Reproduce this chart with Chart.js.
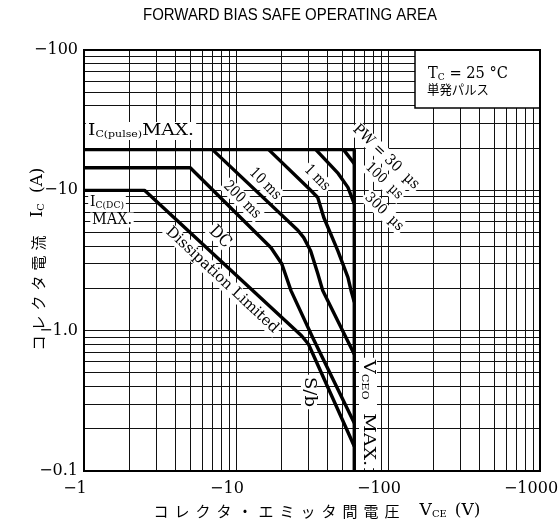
<!DOCTYPE html>
<html>
<head>
<meta charset="utf-8">
<script src="https://cdn.jsdelivr.net/npm/chart.js@4/dist/chart.umd.min.js"></script>
<style>
html, body { margin: 0; padding: 0; background: #fff; }
</style>
</head>
<body>
<canvas id="soa" width="560" height="532"></canvas>
<script>
// tick values (shown with a minus sign, the device is PNP)
const xDecades = [1, 10, 100, 1000];
const yDecades = [0.1, 1, 10, 100];

// curves, V = |VCE| (V), I = |IC| (A)
const pw30V = [1, 60, 60];
const pw30I = [19.5, 19.5, 0.1];
const pw100V = [51, 60];
const pw100I = [19.5, 15.5];
const pw300V = [33.5, 47, 54.5, 60];
const pw300I = [19.5, 13.2, 10.5, 8];
const ms1V = [16.4, 31, 34.5, 37.8, 46.8, 54.5, 57, 60];
const ms1I = [19.5, 10, 8.9, 6.4, 3.7, 2.4, 1.95, 1.6];
const ms10V = [7, 25.5, 27.9, 31, 34.5, 37.2, 60];
const ms10I = [19.5, 5.2, 4.6, 3.7, 2.55, 1.93, 0.68];
const ms200V = [1, 5, 17, 20, 23, 32, 60];
const ms200I = [14.5, 14.5, 3.9, 3.0, 1.93, 0.89, 0.22];
const dcV = [1, 2.5, 27, 30, 60];
const dcI = [10, 10, 0.92, 0.8, 0.15];

const curves = [
    [pw30V, pw30I], [pw100V, pw100I], [pw300V, pw300I],
    [ms1V, ms1I], [ms10V, ms10I], [ms200V, ms200I], [dcV, dcI]
];

const SERIF = '"DejaVu Serif", serif';
const SANS = '"Liberation Sans", Arial, sans-serif';
const JP = '"Noto Sans CJK JP", sans-serif';

// all the ticks of a log decade grid
function logTicks(lo, hi) {
    let out = [];
    for (let d = lo; d < hi * 0.999; d *= 10) {
        for (let k = 1; k < 10; k++) out.push(+(d * k).toPrecision(3));
    }
    out.push(hi);
    return out;
}
function isDecade(v) {
    let l = Math.log10(v);
    return Math.abs(l - Math.round(l)) < 1e-6;
}

let datasets = curves.map(c => ({
    data: c[0].map((v, i) => ({ x: v, y: c[1][i] })),
    borderColor: '#000',
    borderWidth: 3.4,
    pointRadius: 0,
    tension: 0,
    fill: false,
    borderJoinStyle: 'round'
}));

// text helpers ------------------------------------------------------
function fnt(p) { return (p.b ? 'bold ' : '') + p.s + 'px ' + (p.f || SERIF); }
function partW(ctx, p) {
    if (p.gap) return p.gap;
    ctx.font = fnt(p);
    let w = 0;
    for (const ch of p.t) w += ctx.measureText(ch).width + (p.sp || 0);
    return p.sp ? w - p.sp : ctx.measureText(p.t).width;
}
function labelW(ctx, parts) {
    let w = 0;
    parts.forEach(p => w += partW(ctx, p));
    return w;
}
function drawLabel(ctx, L, bg) {
    ctx.save();
    ctx.translate(L.x, L.y);
    ctx.rotate((L.a || 0) * Math.PI / 180);
    let nat = labelW(ctx, L.p);
    if (L.w) ctx.scale(L.w / nat, 1);
    if (bg) {
        let h = L.h || 16;
        ctx.fillStyle = '#fff';
        ctx.fillRect(-nat / 2 - 2, -h / 2, nat + 4, h);
    } else {
        ctx.fillStyle = '#000';
        ctx.textBaseline = 'middle';
        let cx = -nat / 2;
        L.p.forEach(p => {
            if (p.gap) { cx += p.gap; return; }
            ctx.font = fnt(p);
            if (p.sp) {
                for (const ch of p.t) {
                    ctx.fillText(ch, cx, p.dy || 0);
                    cx += ctx.measureText(ch).width + p.sp;
                }
                cx -= p.sp;
            } else {
                ctx.fillText(p.t, cx, p.dy || 0);
                cx += ctx.measureText(p.t).width;
            }
        });
    }
    ctx.restore();
}

const labels = [
    { x: 141, y: 131, w: 106, h: 18, p: [{ t: 'I', s: 17 }, { t: 'C(pulse)', s: 10, dy: 3 }, { t: 'MAX.', s: 17 }] },
    { x: 107, y: 202, w: 34, h: 14, p: [{ t: 'I', s: 15 }, { t: 'C(DC)', s: 10, dy: 3 }] },
    { x: 112, y: 220, w: 40, h: 15, p: [{ t: 'MAX.', s: 17 }] },
    { x: 220, y: 237, a: 45, w: 24, p: [{ t: 'DC', s: 17 }] },
    { x: 242, y: 200, a: 45, w: 46, p: [{ t: '200 ms', s: 15 }] },
    { x: 265, y: 184, a: 45, w: 38, p: [{ t: '10 ms', s: 15 }] },
    { x: 317, y: 178, a: 45, w: 30, p: [{ t: '1 ms', s: 15 }] },
    { x: 222, y: 280, a: 43, w: 148, p: [{ t: 'Dissipation Limited', s: 15 }] },
    { x: 386, y: 157, a: 44, w: 86, p: [{ t: 'PW = 30  µs', s: 15 }] },
    { x: 384, y: 181, a: 44, w: 46, p: [{ t: '100  µs', s: 14 }] },
    { x: 384, y: 212, a: 44, w: 48, p: [{ t: '300  µs', s: 14 }] },
    { x: 309, y: 392, a: 90, w: 30, p: [{ t: 'S/b', s: 16 }] },
    { x: 368, y: 413, a: 90, w: 106, h: 18, p: [{ t: 'V', s: 17 }, { t: 'CEO', s: 10, dy: 3 }, { gap: 12 }, { t: 'MAX.', s: 17 }] }
];

const overlay = {
    id: 'overlay',
    beforeDatasetsDraw(chart) {
        const ctx = chart.ctx;
        labels.forEach(L => drawLabel(ctx, L, true));
        // condition box
        ctx.save();
        ctx.fillStyle = '#fff';
        ctx.fillRect(415, 50, 125, 58);
        ctx.strokeStyle = '#000';
        ctx.lineWidth = 1.5;
        ctx.strokeRect(415, 50, 125, 58);
        ctx.restore();
    },
    afterDraw(chart) {
        const ctx = chart.ctx;
        const a = chart.chartArea;
        ctx.save();
        ctx.strokeStyle = '#000';
        ctx.lineWidth = 2;
        ctx.strokeRect(a.left, a.top, a.right - a.left, a.bottom - a.top);
        ctx.restore();
        labels.forEach(L => drawLabel(ctx, L, false));
        // box text
        drawLabel(ctx, { x: 468, y: 74, w: 80, p: [{ t: 'T', s: 16 }, { t: 'C', s: 10, dy: 3 }, { t: ' = 25 °C', s: 16 }] }, false);
        drawLabel(ctx, { x: 458, y: 89, w: 62, p: [{ t: '単発パルス', s: 13, f: JP }] }, false);
        // chart title
        drawLabel(ctx, { x: 290, y: 16, w: 294, p: [{ t: 'FORWARD BIAS SAFE OPERATING AREA', s: 16, f: SANS }] }, false);
        // axis titles
        drawLabel(ctx, { x: 317, y: 511, p: [
            { t: 'コレクタ・エミッタ間電圧', s: 15, f: JP, sp: 6 }, { gap: 20 },
            { t: 'V', s: 17 }, { t: 'CE', s: 10, dy: 3 }, { gap: 8 }, { t: '(V)', s: 17 }
        ] }, false);
        drawLabel(ctx, { x: 38, y: 259, a: -90, p: [
            { t: 'コレクタ電流', s: 15, f: JP, sp: 5 }, { gap: 18 },
            { t: 'I', s: 17 }, { t: 'C', s: 10, dy: 3 }, { gap: 10 }, { t: '(A)', s: 17 }
        ] }, false);
    }
};

const ctx = document.getElementById('soa').getContext('2d');
const chart = new Chart(ctx, {
    type: 'line',
    data: { datasets: datasets },
    options: {
        responsive: false,
        animation: false,
        layout: { padding: { left: 0, top: 50, right: 20, bottom: 0 } },
        plugins: { legend: { display: false }, title: { display: false }, tooltip: { enabled: false } },
        scales: {
            x: {
                type: 'logarithmic',
                min: xDecades[0],
                max: xDecades[xDecades.length - 1],
                afterBuildTicks: s => { s.ticks = logTicks(1, 1000).map(v => ({ value: v })); },
                afterFit: s => { s.height = 61; s.paddingLeft = 0; s.paddingRight = 0; },
                grid: { color: '#111', lineWidth: 1, drawTicks: false },
                border: { display: true, color: '#000', width: 2 },
                ticks: {
                    autoSkip: false, maxRotation: 0, padding: 8, labelOffset: -9,
                    color: '#000', font: { family: SERIF, size: 16 },
                    callback: v => isDecade(v) && xDecades.includes(v) ? '\u2212' + v : ''
                }
            },
            y: {
                type: 'logarithmic',
                min: yDecades[0],
                max: yDecades[yDecades.length - 1],
                afterBuildTicks: s => { s.ticks = logTicks(0.1, 100).map(v => ({ value: v })); },
                afterFit: s => { s.width = 84; s.paddingTop = 0; s.paddingBottom = 0; },
                grid: { color: '#111', lineWidth: 1, drawTicks: false },
                border: { display: true, color: '#000', width: 2 },
                ticks: {
                    autoSkip: false, padding: 6,
                    color: '#000', font: { family: SERIF, size: 16 },
                    callback: v => isDecade(v) ? '\u2212' + (v === 1 ? '1.0' : v) : ''
                }
            }
        }
    },
    plugins: [overlay]
});
</script>
</body>
</html>
